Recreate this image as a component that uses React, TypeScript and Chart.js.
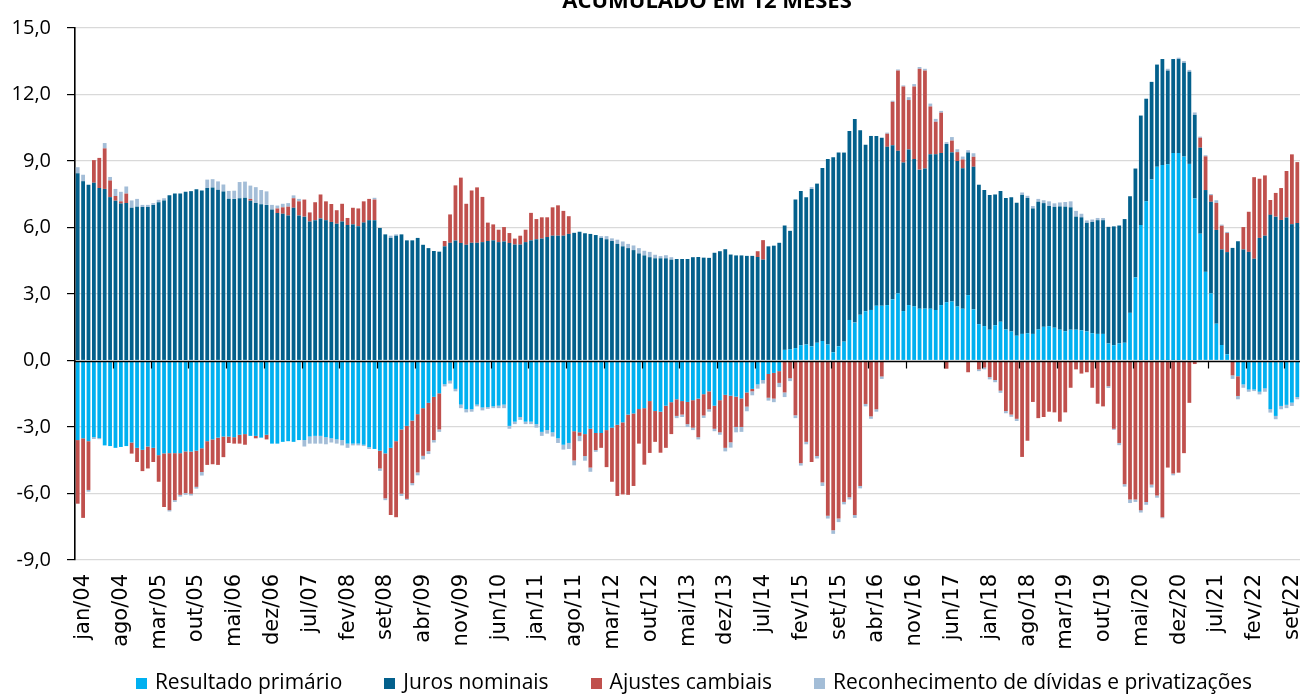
import React, { useEffect, useRef } from 'react';
import { Chart, registerables } from 'chart.js';

Chart.register(...registerables);

const TITLE = 'ACUMULADO EM 12 MESES';
const MONTH_ABBR = ['jan', 'fev', 'mar', 'abr', 'mai', 'jun', 'jul', 'ago', 'set', 'out', 'nov', 'dez'];
const FIRST_YEAR = 2004;
const N_MONTHS = 227; // jan/04 .. nov/22
const LABEL_STEP = 7;
const Y_MIN = -9;
const Y_MAX = 15;
const Y_STEP = 3;

const categories: string[] = Array.from({ length: N_MONTHS }, (_, i) =>
  `${MONTH_ABBR[i % 12]}/${String((FIRST_YEAR + Math.floor(i / 12)) % 100).padStart(2, '0')}`
);

// % do PIB, acumulado em 12 meses (one row per year, jan..dez)
const resultadoPrimario = [
  -3.59, -3.51, -3.64, -3.46, -3.50, -3.83, -3.86, -3.94, -3.90, -3.86, -3.70, -3.94,
  -4.03, -3.88, -3.94, -4.27, -4.19, -4.18, -4.18, -4.18, -4.10, -4.11, -4.07, -3.96,
  -3.64, -3.56, -3.48, -3.43, -3.43, -3.46, -3.35, -3.32, -3.40, -3.40, -3.48, -3.35,
  -3.75, -3.75, -3.67, -3.64, -3.67, -3.59, -3.59, -3.43, -3.40, -3.40, -3.46, -3.51,
  -3.56, -3.59, -3.75, -3.75, -3.75, -3.80, -3.91, -3.99, -4.07, -4.19, -3.94, -3.64,
  -3.11, -2.95, -2.71, -2.42, -2.15, -1.91, -1.64, -1.48, -1.07, -0.91, -1.28, -1.99,
  -2.20, -2.20, -1.99, -2.12, -2.10, -2.07, -2.04, -1.99, -2.95, -2.76, -2.55, -2.76,
  -2.76, -2.87, -3.22, -3.14, -3.24, -3.51, -3.80, -3.72, -3.19, -3.24, -3.32, -3.08,
  -3.27, -3.27, -3.14, -3.03, -2.90, -2.79, -2.44, -2.39, -2.19, -2.15, -1.83, -2.28,
  -2.31, -2.04, -1.88, -1.75, -1.83, -1.87, -1.79, -1.72, -1.52, -1.39, -2.04, -1.79,
  -1.55, -1.59, -1.63, -1.71, -1.44, -1.28, -1.08, -0.88, -0.61, -0.56, -0.48, 0.48,
  0.51, 0.56, 0.69, 0.72, 0.64, 0.80, 0.88, 0.72, 0.37, 0.64, 0.85, 1.83,
  1.71, 2.06, 2.22, 2.28, 2.47, 2.47, 2.50, 2.76, 3.03, 2.23, 2.50, 2.44,
  2.34, 2.34, 2.34, 2.28, 2.50, 2.63, 2.66, 2.44, 2.34, 2.95, 2.31, 1.64,
  1.55, 1.39, 1.59, 1.75, 1.40, 1.31, 1.12, 1.20, 1.23, 1.20, 1.40, 1.52,
  1.55, 1.48, 1.39, 1.32, 1.39, 1.39, 1.36, 1.31, 1.23, 1.20, 1.20, 0.77,
  0.69, 0.77, 0.80, 2.15, 3.75, 6.11, 7.18, 8.17, 8.74, 8.82, 8.85, 9.36,
  9.36, 9.20, 8.87, 7.31, 5.72, 4.00, 3.03, 1.66, 0.70, 0.28, 0.00, -0.71,
  -1.08, -1.31, -1.31, -1.41, -1.26, -2.20, -2.50, -2.05, -2.00, -1.90, -1.65,
];

const jurosNominais = [
  8.45, 8.09, 7.93, 8.02, 7.78, 7.74, 7.37, 7.21, 7.08, 7.10, 6.89, 6.94,
  6.92, 6.92, 7.02, 7.14, 7.22, 7.46, 7.53, 7.53, 7.61, 7.64, 7.72, 7.67,
  7.78, 7.81, 7.70, 7.62, 7.30, 7.29, 7.32, 7.34, 7.21, 7.10, 7.05, 7.02,
  6.81, 6.65, 6.62, 6.54, 6.89, 6.54, 6.49, 6.27, 6.33, 6.41, 6.33, 6.25,
  6.17, 6.27, 6.11, 6.14, 6.06, 6.22, 6.33, 6.33, 5.98, 5.69, 5.53, 5.63,
  5.69, 5.42, 5.42, 5.53, 5.22, 5.07, 4.94, 4.91, 5.15, 5.31, 5.41, 5.30,
  5.22, 5.31, 5.31, 5.34, 5.39, 5.42, 5.34, 5.37, 5.30, 5.23, 5.23, 5.34,
  5.42, 5.47, 5.50, 5.57, 5.63, 5.63, 5.63, 5.71, 5.76, 5.81, 5.74, 5.71,
  5.66, 5.53, 5.47, 5.39, 5.26, 5.15, 5.07, 4.98, 4.83, 4.74, 4.66, 4.61,
  4.61, 4.61, 4.55, 4.58, 4.58, 4.58, 4.66, 4.67, 4.64, 4.63, 4.86, 4.93,
  5.02, 4.78, 4.74, 4.74, 4.72, 4.72, 4.67, 4.55, 5.15, 5.18, 5.31, 5.61,
  5.34, 6.70, 6.96, 6.65, 7.10, 7.18, 7.80, 8.37, 8.80, 8.74, 8.53, 8.52,
  9.19, 8.33, 7.51, 7.85, 7.66, 7.58, 7.14, 6.95, 6.43, 6.70, 7.02, 6.65,
  6.27, 6.32, 6.97, 7.02, 6.86, 7.14, 6.73, 6.56, 6.33, 6.43, 6.43, 6.29,
  6.14, 6.08, 5.90, 5.90, 5.93, 6.06, 6.00, 6.27, 6.10, 5.66, 5.76, 5.58,
  5.42, 5.45, 5.56, 5.62, 5.52, 5.10, 5.10, 4.90, 5.02, 5.13, 5.13, 5.26,
  5.36, 5.32, 5.58, 5.26, 4.91, 4.94, 4.63, 4.40, 4.61, 4.78, 4.23, 4.24,
  4.24, 4.23, 4.16, 3.77, 3.88, 3.69, 4.13, 4.23, 4.31, 4.61, 5.08, 5.38,
  5.01, 4.90, 4.59, 5.53, 5.63, 6.57, 6.49, 6.34, 6.45, 6.15, 6.20,
];

const ajustesCambiais = [
  -2.87, -3.59, -2.20, 1.02, 1.36, 1.83, 0.75, 0.21, 0.10, 0.43, -0.50, -0.64,
  -0.96, -0.99, -0.64, -1.20, -2.42, -2.57, -2.12, -1.88, -1.88, -1.90, -1.63, -1.07,
  -1.07, -1.12, -1.23, -0.93, -0.29, -0.29, -0.40, -0.48, 0.08, -0.11, 0.00, -0.21,
  0.00, 0.21, 0.29, 0.40, 0.43, 0.64, 0.77, 0.41, 0.81, 1.08, 0.85, 0.81,
  0.61, 0.80, 0.32, 0.75, 0.80, 0.96, 0.96, 0.93, -0.80, -2.03, -3.03, -3.43,
  -2.90, -3.29, -2.82, -2.63, -2.15, -2.18, -1.95, -1.63, 0.24, 1.28, 2.49, 2.95,
  1.85, 2.36, 2.50, 2.04, 0.83, 0.72, 0.56, 0.65, 0.45, 0.27, 0.40, 0.56,
  1.24, 0.91, 0.96, 0.89, 1.28, 1.37, 1.12, 0.80, -1.32, -0.16, -0.99, -1.75,
  -0.77, -0.67, -1.67, -2.44, -3.21, -3.25, -3.62, -3.27, -1.56, -2.55, -2.34, -1.39,
  -1.85, -1.90, -1.44, -0.75, -0.61, -1.00, -1.24, -1.74, -0.96, -0.81, -1.04, -1.45,
  -2.39, -2.10, -1.37, -1.29, -0.64, -0.11, 0.26, 0.88, -1.07, -1.16, -0.53, -1.44,
  -0.80, -2.47, -4.63, -3.67, -4.58, -4.31, -5.50, -7.00, -7.66, -7.13, -6.38, -6.17,
  -6.97, -5.66, -1.96, -2.52, -2.20, -0.72, 0.59, 1.96, 3.62, 3.43, 2.23, 3.27,
  4.55, 4.42, 2.15, 1.47, 1.82, -0.37, 0.53, 0.40, 0.40, -0.53, 0.45, -0.40,
  -0.32, -0.75, -0.88, -1.36, -2.28, -2.44, -2.63, -4.35, -3.62, -1.87, -2.60, -2.55,
  -2.31, -2.34, -2.76, -2.34, -1.23, -0.40, -0.59, -0.53, -1.23, -1.95, -2.07, -1.16,
  -3.08, -3.72, -5.58, -6.27, -6.27, -6.75, -6.38, -5.60, -6.09, -7.07, -4.83, -5.10,
  -5.06, -4.18, -1.91, -0.16, 0.45, 1.52, 0.30, 1.22, 1.07, 0.86, -0.67, -0.89,
  1.01, 1.81, 3.68, 2.67, 2.72, 0.67, 1.07, 1.44, 2.10, 3.15, 2.75,
];

const reconhecimentoDividas = [
  0.27, 0.29, -0.08, -0.08, -0.05, 0.24, 0.16, 0.32, 0.43, 0.32, 0.33, 0.35,
  0.10, 0.10, 0.08, 0.11, 0.10, -0.06, -0.08, -0.08, -0.08, -0.08, -0.08, -0.16,
  0.38, 0.37, 0.38, 0.32, 0.35, 0.37, 0.73, 0.73, 0.60, 0.72, 0.64, 0.61,
  0.21, 0.13, 0.16, 0.16, 0.13, 0.11, -0.29, -0.32, -0.35, -0.35, -0.32, -0.19,
  -0.19, -0.24, -0.19, -0.08, -0.08, -0.06, -0.08, 0.08, -0.11, -0.08, 0.10, 0.06,
  -0.10, -0.05, -0.10, -0.13, -0.16, -0.13, -0.11, -0.11, -0.10, -0.13, -0.11, -0.16,
  -0.14, -0.11, -0.08, -0.13, -0.08, -0.08, -0.11, -0.16, -0.13, -0.11, -0.13, -0.11,
  -0.11, -0.16, -0.18, -0.16, -0.19, -0.21, -0.22, -0.27, -0.22, -0.24, -0.21, -0.19,
  -0.08, 0.08, 0.14, 0.12, 0.19, 0.22, 0.19, 0.21, 0.24, 0.21, 0.24, 0.16,
  0.10, 0.14, 0.11, -0.10, -0.11, -0.13, -0.11, -0.10, -0.11, -0.11, -0.11, -0.11,
  -0.16, -0.24, -0.24, -0.22, -0.21, -0.18, -0.19, -0.16, -0.13, -0.16, -0.19, -0.21,
  -0.13, -0.13, -0.11, -0.11, 0.08, -0.11, -0.16, -0.13, -0.16, -0.16, -0.11, -0.10,
  -0.13, -0.11, -0.11, -0.11, -0.11, -0.11, 0.05, 0.05, 0.05, 0.05, 0.13, 0.11,
  0.08, 0.08, 0.13, 0.13, 0.08, 0.08, 0.16, 0.13, 0.13, 0.11, 0.16, -0.08,
  -0.08, -0.10, -0.10, -0.10, -0.10, -0.10, -0.10, 0.11, 0.10, 0.11, 0.13, 0.13,
  0.21, 0.16, 0.18, 0.21, 0.27, 0.26, 0.16, 0.11, 0.11, 0.10, 0.10, -0.08,
  -0.05, -0.10, -0.11, -0.16, -0.11, -0.11, -0.13, -0.13, -0.10, -0.05, 0.08, -0.08,
  0.06, 0.08, 0.08, 0.11, 0.05, 0.05, 0.05, 0.12, 0.05, 0.05, -0.16, -0.15,
  -0.15, -0.10, -0.07, -0.12, -0.15, -0.15, -0.15, -0.15, -0.15, -0.15, -0.10,
];

const SERIES_NAMES = [
  'Resultado primário',
  'Juros nominais',
  'Ajustes cambiais',
  'Reconhecimento de dívidas e privatizações',
];
const SERIES_COLORS = ['#00B0F0', '#03608C', '#C0504D', '#A3BDD7'];

const formatTick = (v: number) => v.toFixed(1).replace('.', ',');

const titlePlugin = {
  id: 'topTitle',
  afterDraw(chart: any) {
    const { ctx } = chart;
    ctx.save();
    ctx.font = 'bold 22px "Open Sans"';
    ctx.fillStyle = '#000';
    ctx.textAlign = 'center';
    ctx.textBaseline = 'alphabetic';
    ctx.fillText(TITLE, 707, 8);
    ctx.restore();
  },
};

const legendPlugin = {
  id: 'bottomLegend',
  afterDraw(chart: any) {
    const { ctx } = chart;
    const BOX = 11;
    const GAP = 8;
    const SPACING = 42;
    const CENTER_X = 694;
    const CENTER_Y = 683;
    ctx.save();
    ctx.font = '21px "Open Sans"';
    const items = chart.data.datasets.map((ds: any) => ({
      text: ds.label as string,
      color: ds.backgroundColor as string,
      w: ctx.measureText(ds.label).width,
    }));
    const total =
      items.reduce((s: number, it: any) => s + BOX + GAP + it.w, 0) + SPACING * (items.length - 1);
    let x = CENTER_X - total / 2;
    ctx.textAlign = 'left';
    ctx.textBaseline = 'middle';
    for (const it of items) {
      ctx.fillStyle = it.color;
      ctx.fillRect(Math.round(x), Math.round(CENTER_Y - BOX / 2), BOX, BOX);
      ctx.fillStyle = '#000';
      ctx.fillText(it.text, x + BOX + GAP, CENTER_Y);
      x += BOX + GAP + it.w + SPACING;
    }
    ctx.restore();
  },
};

const zeroAxisPlugin = {
  id: 'zeroAxis',
  afterDatasetsDraw(chart: any) {
    const { ctx, chartArea, scales } = chart;
    const x = scales.x;
    const y = scales.y;
    const y0 = Math.round(y.getPixelForValue(0)) + 0.5;
    ctx.save();
    ctx.strokeStyle = '#000';
    ctx.lineWidth = 1.5;
    ctx.beginPath();
    ctx.moveTo(chartArea.left, y0);
    ctx.lineTo(chartArea.right, y0);
    ctx.stroke();
    const half = (x.getPixelForValue(1) - x.getPixelForValue(0)) / 2;
    ctx.lineWidth = 1.2;
    for (let i = LABEL_STEP; i < categories.length; i += LABEL_STEP) {
      const px = Math.round(x.getPixelForValue(i) - half) + 0.5;
      ctx.beginPath();
      ctx.moveTo(px, y0);
      ctx.lineTo(px, y0 + 7);
      ctx.stroke();
    }
    ctx.restore();
  },
};

export default function App() {
  const canvasRef = useRef<HTMLCanvasElement>(null);

  useEffect(() => {
    if (!canvasRef.current) return;
    Chart.defaults.font.family = '"Open Sans"';
    const seriesData = [resultadoPrimario, jurosNominais, ajustesCambiais, reconhecimentoDividas];
    const chart = new Chart(canvasRef.current, {
      type: 'bar',
      data: {
        labels: categories,
        datasets: SERIES_NAMES.map((name, k) => ({
          label: name,
          data: seriesData[k],
          backgroundColor: SERIES_COLORS[k],
          borderWidth: 0,
          barPercentage: 0.7,
          categoryPercentage: 1.0,
        })),
      },
      options: {
        responsive: false,
        animation: false,
        devicePixelRatio: 1,
        layout: { padding: { top: 22, right: 0, bottom: 0, left: 0 } },
        plugins: {
          legend: { display: false },
          title: { display: false },
          tooltip: { enabled: false },
        },
        scales: {
          x: {
            stacked: true,
            grid: { display: false, drawTicks: false },
            border: { display: false },
            ticks: {
              autoSkip: false,
              minRotation: 90,
              maxRotation: 90,
              padding: 14,
              labelOffset: 6,
              color: '#000',
              font: { family: '"DejaVu Sans"', size: 21 },
              callback: (_v: any, i: number) => (i % LABEL_STEP === 0 ? categories[i] : ''),
            },
            afterFit: (s: any) => {
              s.height = 135;
              s.paddingLeft = 0;
              s.paddingRight = 0;
            },
          },
          y: {
            stacked: true,
            min: Y_MIN,
            max: Y_MAX,
            ticks: {
              stepSize: Y_STEP,
              padding: 16,
              color: '#000',
              font: { family: '"Open Sans"', size: 20 },
              callback: (v: any) => formatTick(Number(v)),
            },
            grid: {
              color: (c: any) => (c.tick && c.tick.value === 0 ? 'rgba(0,0,0,0)' : '#D9D9D9'),
              lineWidth: 1.2,
              tickColor: '#000',
              tickLength: 8,
            },
            border: { display: true, color: '#000', width: 1.6 },
            afterFit: (s: any) => {
              s.width = 75;
            },
          },
        },
      },
      plugins: [zeroAxisPlugin, titlePlugin, legendPlugin],
    } as any);
    return () => chart.destroy();
  }, []);

  return (
    <div style={{ position: 'fixed', left: 0, top: 0, width: 1300, height: 695, background: '#fff', overflow: 'hidden' }}>
      <canvas ref={canvasRef} width={1300} height={695} style={{ display: 'block' }} />
    </div>
  );
}
